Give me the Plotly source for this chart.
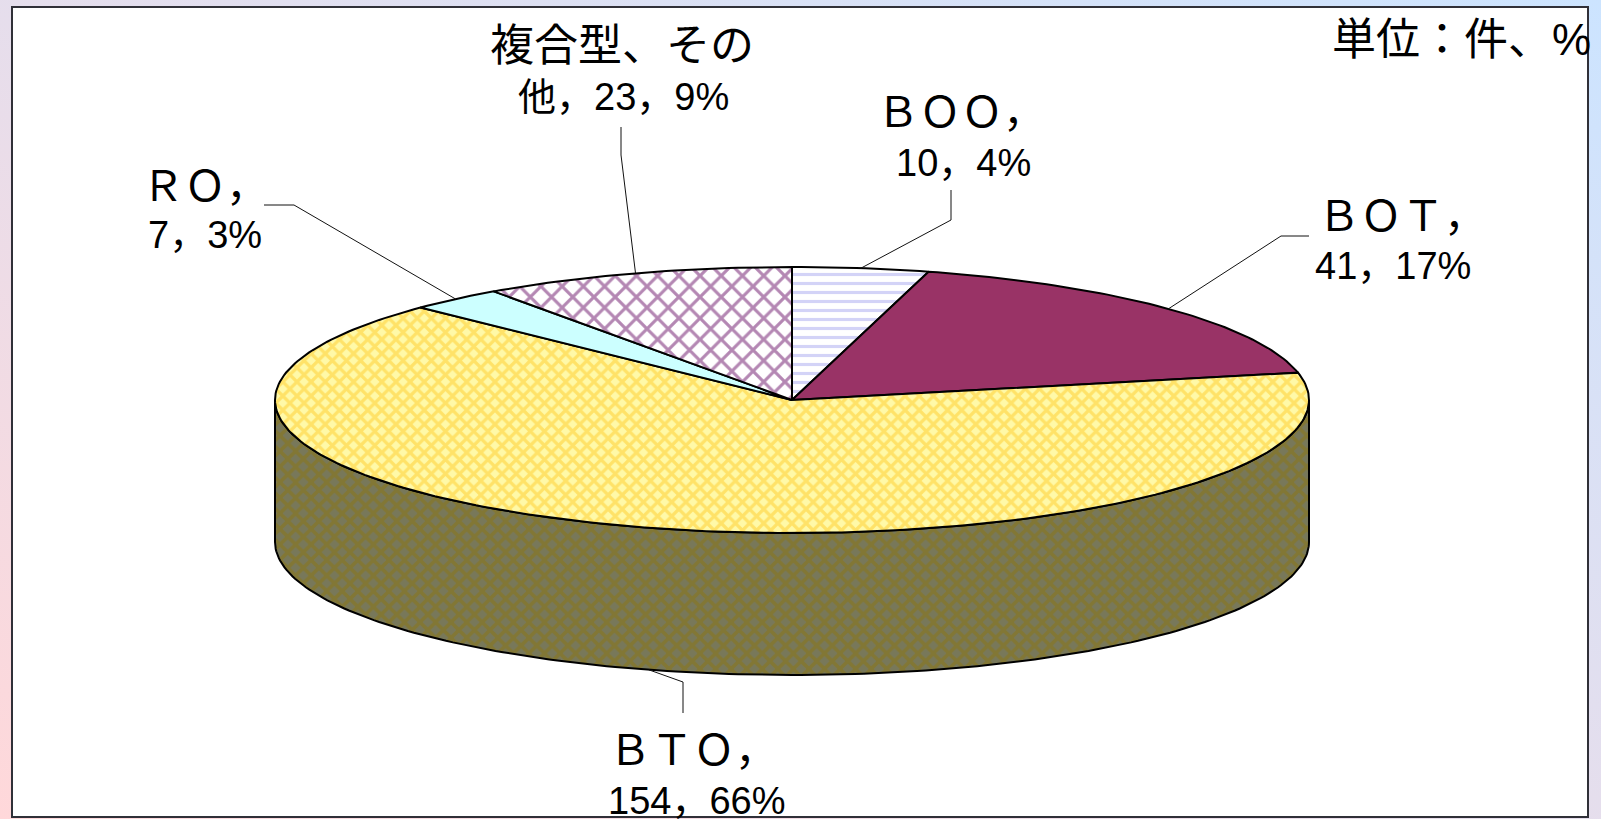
import math
import plotly.graph_objects as go

# ---- data ----
categories = ["BOO", "BOT", "BTO", "RO", "Other"]
counts = [10, 41, 154, 7, 23]
percents = [4, 17, 66, 3, 9]
label_names = ["ＢＯＯ，", "ＢＯＴ，", "ＢＴＯ，", "ＲＯ，", "複合型、その"]
label_values = ["10，4%", "41，17%", "154，66%", "7，3%", "他，23，9%"]
unit_label = "単位：件、%"

# ---- geometry of the oblique pie, in page pixels ----
W, H = 1601, 819
CX, CY, RX, RY, DEPTH = 792, 400, 517, 133, 142
top_styles = {
    "BOO": dict(bg="#FFFFFF", fg="#A8A8F0", shape="-", size=9, solidity=0.35),
    "BOT": dict(bg="#993366", fg="#993366", shape="", size=8, solidity=0.5),
    "BTO": dict(bg="#FFF9A8", fg="#FFCC28", shape="x", size=10, solidity=0.55),
    "RO": dict(bg="#CCFFFF", fg="#CCFFFF", shape="", size=8, solidity=0.5),
    "Other": dict(bg="#FFFFFF", fg="#6A0F68", shape="x", size=15, solidity=0.38),
}
side_style = dict(bg="#78785A", fg="#8B7510", shape="x", size=11, solidity=0.55)
NAME_FONT = "Noto Sans CJK JP, sans-serif"
VALUE_FONT = "Liberation Sans, Noto Sans CJK JP, sans-serif"


def ell(deg, dy=0):
    a = math.radians(deg)
    return CX + RX * math.sin(a), CY - RY * math.cos(a) + dy


def arc(a0, a1, dy=0, step=1.0):
    n = max(2, int(abs(a1 - a0) / step))
    return [ell(a0 + (a1 - a0) * i / n, dy) for i in range(n + 1)]


total = sum(counts)
edges = [0]
for c in counts:
    edges.append(edges[-1] + c / total * 360)

fig = go.Figure()

# side wall: front half of the ellipse
front = arc(90, 270)
wall = front + arc(270, 90, DEPTH)
fig.add_trace(go.Scatter(
    x=[p[0] for p in wall] + [wall[0][0]], y=[p[1] for p in wall] + [wall[0][1]],
    mode="lines", fill="toself", line=dict(color="#000000", width=2),
    fillcolor=side_style["bg"],
    fillpattern=dict(bgcolor=side_style["bg"], fgcolor=side_style["fg"],
                     shape=side_style["shape"], size=side_style["size"],
                     solidity=side_style["solidity"]),
    hoverinfo="skip", showlegend=False))

# top face slices
for i, name in enumerate(categories):
    pts = [(CX, CY)] + arc(edges[i], edges[i + 1]) + [(CX, CY)]
    s = top_styles[name]
    kw = {}
    if s["shape"]:
        kw["fillpattern"] = dict(bgcolor=s["bg"], fgcolor=s["fg"], shape=s["shape"],
                                 size=s["size"], solidity=s["solidity"])
    fig.add_trace(go.Scatter(
        x=[p[0] for p in pts], y=[p[1] for p in pts], mode="lines", fill="toself",
        fillcolor=s["bg"], line=dict(color="#000000", width=2),
        name=name, hoverinfo="name", showlegend=False, **kw))

# label layout: first-line centre, second-line centre, leader elbow points
label_layout = {
    "BOO": dict(l1=(961, 108), l2=(963, 163), elbow=[(951, 220), (951, 190)]),
    "BOT": dict(l1=(1402, 212), l2=(1393, 266), elbow=[(1281, 236), (1309, 236)]),
    "BTO": dict(l1=(693, 746), l2=(696, 801), elbow=[(683, 682), (683, 713)]),
    "RO": dict(l1=(205, 182), l2=(205, 235), elbow=[(294, 205), (264, 205)]),
    "Other": dict(l1=(622, 42), l2=(623, 97), elbow=[(621, 155), (621, 127)]),
}

for i, name in enumerate(categories):
    mid = (edges[i] + edges[i + 1]) / 2
    start = ell(mid, DEPTH if 90 < mid < 270 else 0)
    path = [start] + label_layout[name]["elbow"]
    fig.add_trace(go.Scatter(
        x=[p[0] for p in path], y=[p[1] for p in path], mode="lines",
        line=dict(color="#111111", width=1), hoverinfo="skip", showlegend=False))

annotations = []
for i, name in enumerate(categories):
    d = label_layout[name]
    name_size = 44 if name == "Other" else 42
    annotations.append(dict(x=d["l1"][0], y=d["l1"][1], text=label_names[i], showarrow=False,
                            xref="x", yref="y", xanchor="center", yanchor="middle",
                            font=dict(family=NAME_FONT, size=name_size, color="#000000")))
    annotations.append(dict(x=d["l2"][0], y=d["l2"][1], text=label_values[i], showarrow=False,
                            xref="x", yref="y", xanchor="center", yanchor="middle",
                            font=dict(family=VALUE_FONT, size=38, color="#000000")))
annotations.append(dict(x=1330, y=39, text=unit_label, showarrow=False, xref="x", yref="y",
                        xanchor="left", yanchor="middle",
                        font=dict(family=VALUE_FONT, size=44, color="#000000")))

background = (
    "data:image/svg+xml;utf8,"
    "<svg xmlns='http://www.w3.org/2000/svg' width='1601' height='819'>"
    "<defs><linearGradient id='a' x1='0' y1='1' x2='1' y2='0'>"
    "<stop offset='0' stop-color='%23FFD8DA'/>"
    "<stop offset='1' stop-color='%23CCE4FF'/>"
    "</linearGradient></defs>"
    "<rect width='1601' height='819' fill='url(%23a)'/></svg>"
)

fig.update_layout(
    width=W, height=H, margin=dict(l=0, r=0, t=0, b=0),
    paper_bgcolor="#E6E2F0", plot_bgcolor="rgba(0,0,0,0)",
    xaxis=dict(range=[0, W], visible=False, fixedrange=True),
    yaxis=dict(range=[H, 0], visible=False, fixedrange=True),
    annotations=annotations,
    images=[dict(source=background, xref="paper", yref="paper", x=0, y=1, sizex=1, sizey=1,
                 xanchor="left", yanchor="top", sizing="stretch", layer="below")],
    shapes=[dict(type="rect", xref="x", yref="y", x0=12, y0=7, x1=1588, y1=817,
                 fillcolor="#FFFFFF", line=dict(color="#303038", width=2), layer="below")],
)

fig.write_html("out.html", config=dict(displayModeBar=False),
               post_script="document.body.style.margin='0';")
